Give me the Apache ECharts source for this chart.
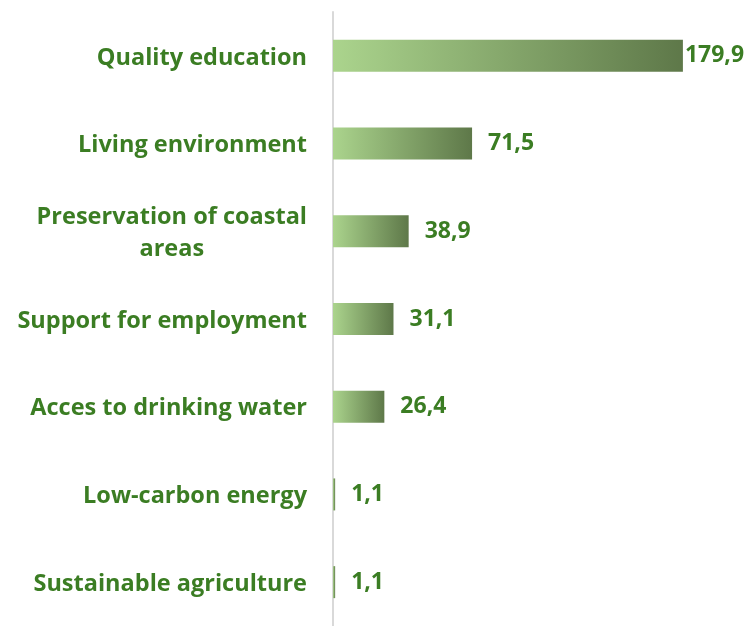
<!DOCTYPE html>
<html>
<head>
<meta charset="utf-8">
<script src="https://cdn.jsdelivr.net/npm/echarts@6/dist/echarts.min.js"></script>
<style>
  html, body { margin: 0; padding: 0; background: #fff; }
  #chart { width: 753px; height: 626px; }
</style>
</head>
<body>
<div id="chart"></div>
<script>
  // top to bottom as shown
  const categories = [
    'Quality education',
    'Living environment',
    'Preservation of coastal areas',
    'Support for employment',
    'Acces to drinking water',
    'Low-carbon energy',
    'Sustainable agriculture'
  ]
  const values = [179.9, 71.5, 38.9, 31.1, 26.4, 1.1, 1.1]

  const textColor = '#3b7d23'
  const font = 'Open Sans'

  const chart = echarts.init(document.getElementById('chart'))
  chart.setOption({
    backgroundColor: '#fff',
    animation: false,
    grid: {
      left: 333,
      width: 389,
      top: 12,
      height: 619
    },
    xAxis: {
      type: 'value',
      min: 0,
      max: 200,
      show: false
    },
    yAxis: {
      type: 'category',
      inverse: true,
      data: categories,
      axisLine: {
        lineStyle: { color: '#d9d9d9', width: 2 }
      },
      axisTick: { show: false },
      axisLabel: {
        margin: 26,
        padding: [4, 0, 0, 0],
        color: textColor,
        fontFamily: font,
        fontWeight: 'bold',
        fontSize: 23.5,
        formatter(v) {
          if (v === 'Preservation of coastal areas') {
            return '{c|Preservation of coastal}\n{c|areas}'
          }
          return v
        },
        rich: {
          c: {
            align: 'center',
            color: textColor,
            fontFamily: font,
            fontWeight: 'bold',
            fontSize: 23.5,
            lineHeight: 32
          }
        }
      }
    },
    series: [{
      type: 'bar',
      barWidth: 32,
      data: values.map((v, i) => ({
        value: v,
        label: { distance: i === 0 ? 2 : 16 }
      })),
      itemStyle: {
        color: new echarts.graphic.LinearGradient(0, 0, 1, 0, [
          { offset: 0, color: '#abd48d' },
          { offset: 1, color: '#5e7849' }
        ])
      },
      label: {
        show: true,
        position: 'right',
        padding: [4, 0, 0, 0],
        color: textColor,
        fontFamily: font,
        fontWeight: 'bold',
        fontSize: 23,
        formatter(p) {
          return String(p.value).replace('.', ',')
        }
      }
    }]
  })
</script>
</body>
</html>
